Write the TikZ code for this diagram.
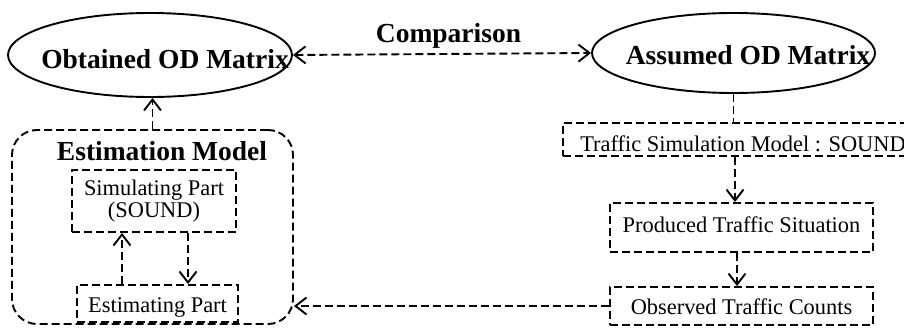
\documentclass[tikz,border=0pt]{standalone}
\usepackage{fontspec}
\setmainfont{Liberation Serif}
\usetikzlibrary{arrows.meta,positioning,shapes}

\begin{document}
\begin{tikzpicture}[x=1pt,y=-1pt,
		>={Straight Barb[length=11pt,width=17pt]},
		bigtext/.style={font=\fontsize{27.5}{33}\selectfont\bfseries,inner sep=0pt},
		smalltext/.style={font=\fontsize{22.4}{22}\selectfont,inner sep=0pt},
		oval/.style={draw,ellipse,line width=1.9pt,inner sep=0pt},
		link/.style={line width=1.9pt,dash pattern=on 8pt off 4pt},
		dashbox/.style={draw,smalltext,link}]
		\useasboundingbox (0,0) rectangle (904,329);
		\clip (0,0) rectangle (904,329);
		
		\node[oval,minimum width=284pt,minimum height=84pt,label={[bigtext,xshift=15pt,yshift=-3.6pt]center:Obtained OD Matrix}] (obtained) at (150,55) {};
		\node[oval,minimum width=283pt,minimum height=80pt,label={[bigtext,xshift=14.5pt,yshift=-2.6pt]center:Assumed OD Matrix}] (assumed) at (733.5,53) {};
		\node[bigtext,anchor=base] (comparison) at (448.5,43) {Comparison};
		
		\node[draw,link,rounded corners=25pt,minimum width=281pt,minimum height=194pt] (estmodel) at (152.5,227) {};
		\node[bigtext,anchor=base] (esttitle) at (162,160) {Estimation Model};
		\node[dashbox,minimum width=164pt,minimum height=62pt,align=center] (simpart) at (154,201) {Simulating Part\\(SOUND)};
		\node[dashbox,minimum width=161pt,minimum height=37pt,text height=18pt,text depth=0pt] (estpart) at (157.5,303.5) {Estimating Part};
		
		\node[dashbox,minimum width=360pt,minimum height=33pt,text height=24pt,text depth=0pt] (tsm) at (743,139.5) {Traffic Simulation Model : SOUND};
		\node[dashbox,minimum width=263pt,minimum height=49pt,text height=9pt,text depth=0pt] (produced) at (741.5,227.5) {Produced Traffic Situation};
		\node[dashbox,minimum width=263pt,minimum height=38pt,text height=17pt,text depth=0pt] (observed) at (741.5,306) {Observed Traffic Counts};
		
		\draw[link,->] (estmodel.north) -- (estmodel.north |- obtained.south);
		\draw[link,<->] (obtained.east) -- (assumed.west);
		\draw[link] (assumed.south) -- ([xshift=-9.5pt]tsm.north);
		\draw[link,->] ([xshift=-8pt]tsm.south) -- ([xshift=-6.5pt]produced.north);
		\draw[link,->] ([xshift=-4.5pt]produced.south) -- ([xshift=-4.5pt]observed.north);
		\draw[link,->] (observed.west) -- (estmodel.east |- observed.west);
		\draw[link,->] ([xshift=-35.5pt]estpart.north) -- ([xshift=-32pt]simpart.south);
		\draw[link,->] ([xshift=34pt]simpart.south) -- ([xshift=30.5pt]estpart.north);
		\end{tikzpicture}
\end{document}
